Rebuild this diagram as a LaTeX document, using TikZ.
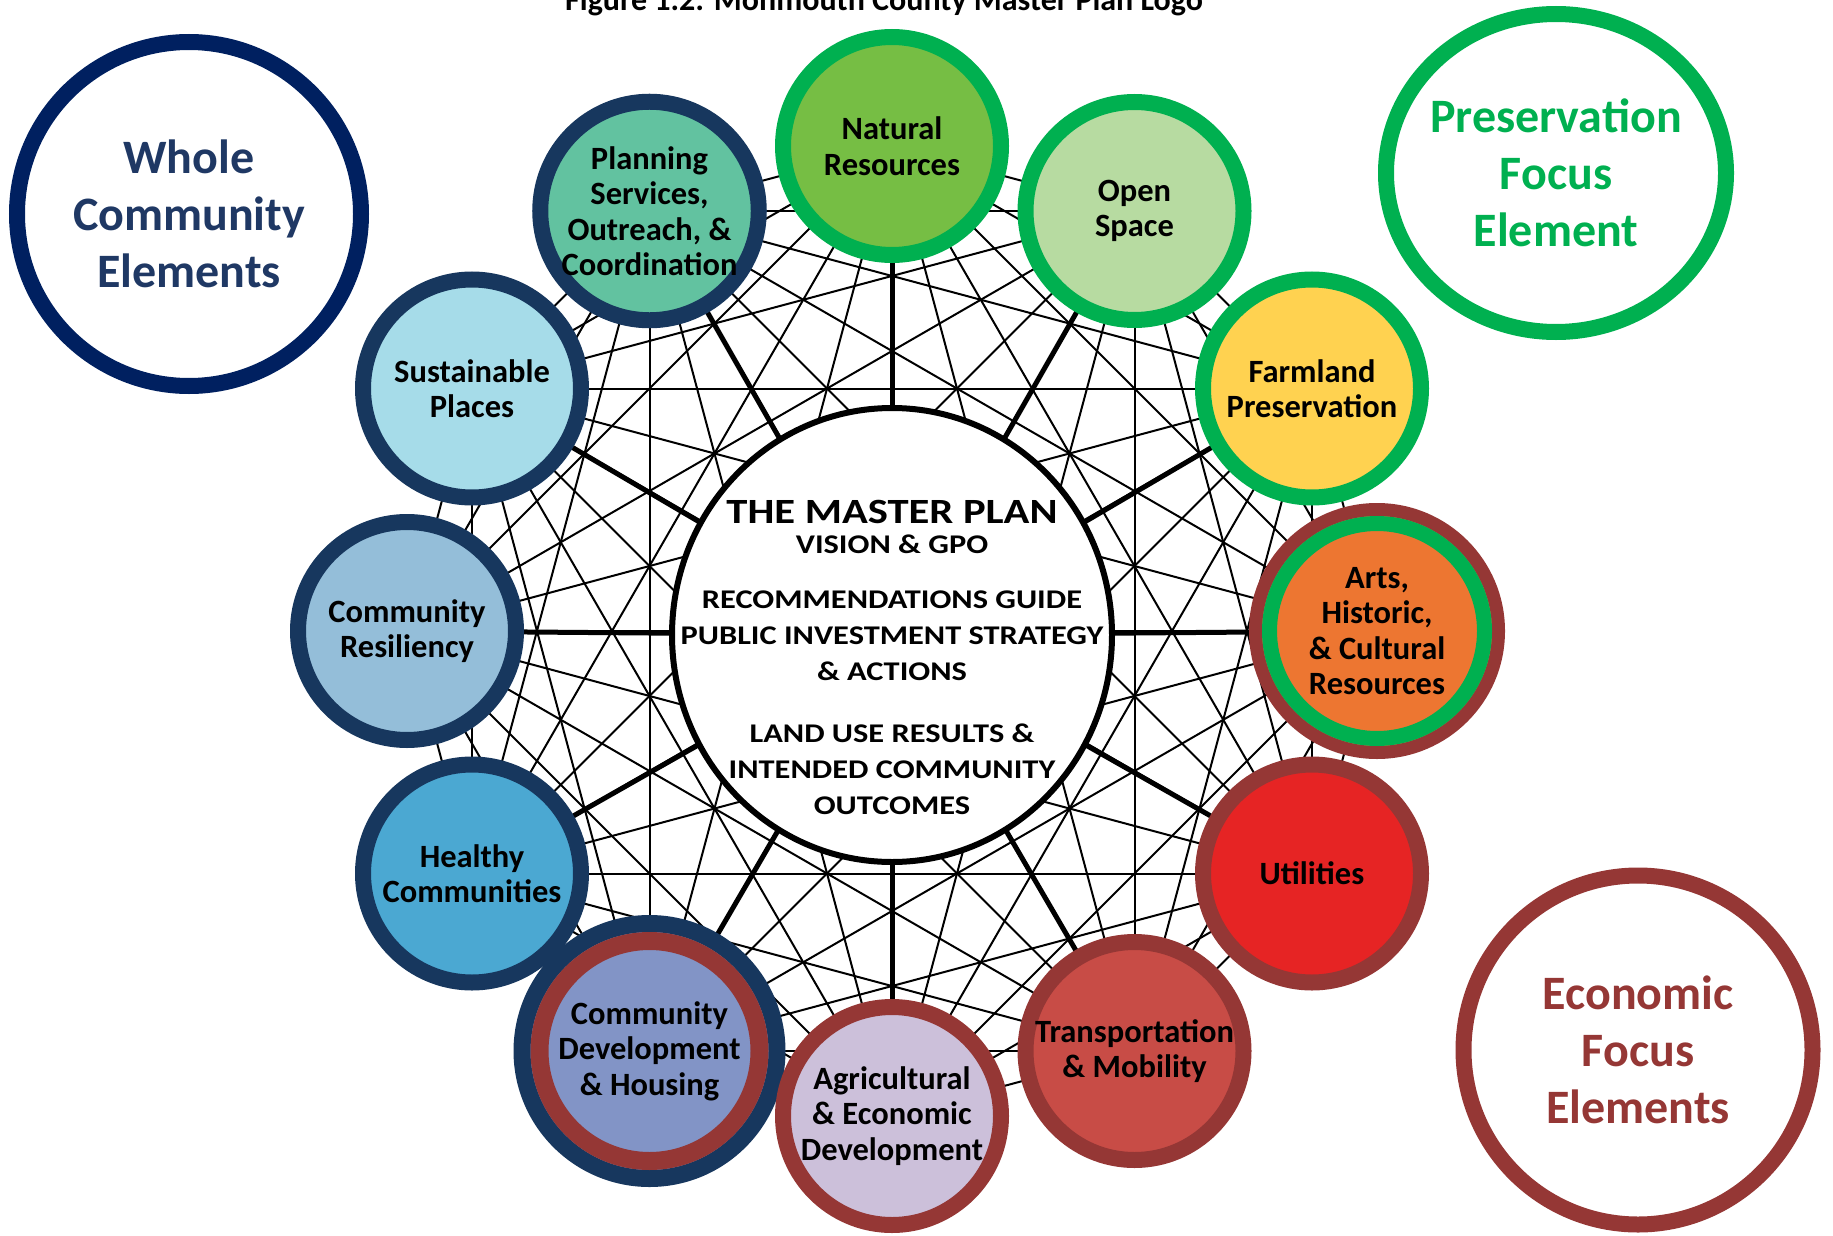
\documentclass[tikz,border=0pt]{standalone}
\usepackage{xcolor}
\usepackage{fontspec}
\setmainfont{Carlito}
\newfontfamily\hubfont[FakeStretch=1.2]{Carlito}
\usepackage{tikz}
\usetikzlibrary{shapes.geometric}
\pgfdeclarelayer{background}
\pgfsetlayers{background,main}

\definecolor{navyring}{RGB}{23,55,94}
\definecolor{navyleg}{RGB}{0,32,96}
\definecolor{navytxt}{RGB}{31,56,100}
\definecolor{pgreen}{RGB}{0,176,80}
\definecolor{ered}{RGB}{149,55,53}
\definecolor{natfill}{RGB}{118,190,68}
\definecolor{openfill}{RGB}{183,219,161}
\definecolor{farmfill}{RGB}{255,210,80}
\definecolor{artsfill}{RGB}{237,118,49}
\definecolor{utilfill}{RGB}{230,36,36}
\definecolor{transfill}{RGB}{200,76,70}
\definecolor{agrifill}{RGB}{204,192,218}
\definecolor{cdevfill}{RGB}{130,148,198}
\definecolor{healthfill}{RGB}{75,168,210}
\definecolor{resilfill}{RGB}{148,190,217}
\definecolor{sustfill}{RGB}{166,220,233}
\definecolor{planfill}{RGB}{98,194,160}

\tikzset{
  elem/.style={circle,draw=#1,line width=16pt,minimum size=218pt,inner sep=0pt,
    align=center,font=\bfseries\fontsize{32.5}{35.5}\selectfont},
  legend/.style={circle,draw=#1,text=#1,line width=16pt,inner sep=0pt,
    align=center,font=\bfseries\fontsize{48}{57}\selectfont},
  hub/.style={ellipse,draw=black,fill=white,line width=6pt,minimum width=440pt,minimum height=454pt},
  hubtext/.style={align=center,inner sep=0pt,font=\hubfont\bfseries\fontsize{27}{36}\selectfont},
  mesh/.style={line width=2pt},
  spoke/.style={line width=5pt}
}

\begin{document}
\begin{tikzpicture}[x=1pt,y=1pt,yscale=-1,xscale=1]
\useasboundingbox (0,0) rectangle (1833,1236);
%title
\node[anchor=base,font=\bfseries\fontsize{32}{36}\selectfont] (title) at (884,11) {Figure 1.2: Monmouth County Master Plan Logo};
%legend
\node[legend=navyleg,text=navytxt,minimum size=344pt] (whole) at (189,214) {Whole\\Community\\Elements};
\node[legend=pgreen,ellipse,inner xsep=-20pt,minimum width=340pt,minimum height=318pt] (pres) at (1556,173) {Preservation\\Focus\\Element};
\node[legend=ered,minimum size=349pt] (econ) at (1638,1050) {Economic\\Focus\\Elements};
%master plan
\node[hub] (mp) at (892,635) {};
\node[hubtext] (mptxt) at (892,657) {{\fontsize{35.5}{40}\selectfont THE MASTER PLAN}\\[-6pt]
VISION \& GPO\\[19pt]
RECOMMENDATIONS GUIDE\\
PUBLIC INVESTMENT STRATEGY\\
\& ACTIONS\\[26pt]
LAND USE RESULTS \&\\
INTENDED COMMUNITY\\
OUTCOMES};
%elements
\node[elem=pgreen,fill=natfill] (nat) at (892,146) {Natural\\Resources};
\node[elem=pgreen,fill=openfill] (open) at (1134.5,211) {Open\\Space};
\node[elem=pgreen,fill=farmfill] (farm) at (1312,388.5) {Farmland\\Preservation};
\node[elem=ered,fill=artsfill,line width=13pt,minimum size=243pt] (arts) at (1377,631) {Arts,\\Historic,\\\& Cultural\\Resources};
\draw[pgreen,line width=15pt] (arts.center) circle (107.5);
\node[elem=ered,fill=utilfill] (util) at (1312,873.5) {Utilities};
\node[elem=ered,fill=transfill] (trans) at (1134.5,1051) {Transportation\\\& Mobility};
\node[elem=navyring,fill=cdevfill,line width=17pt,minimum size=255pt] (cdev) at (649.5,1051) {Community\\Development\\\& Housing};
\draw[ered,line width=18pt] (cdev.center) circle (110);
\node[elem=ered,fill=agrifill] (agri) at (892,1116) {Agricultural\\\& Economic\\Development};
\node[elem=navyring,fill=healthfill] (health) at (472,873.5) {Healthy\\Communities};
\node[elem=navyring,fill=resilfill] (resil) at (407,631) {Community\\Resiliency};
\node[elem=navyring,fill=sustfill] (sust) at (472,388.5) {Sustainable\\Places};
\node[elem=navyring,fill=planfill] (plan) at (649.5,211) {Planning\\Services,\\Outreach, \&\\Coordination};
%web
\def\elems{nat/1,open/2,farm/3,arts/4,util/5,trans/6,agri/7,cdev/8,health/9,resil/10,sust/11,plan/12}
\begin{pgfonlayer}{background}
\foreach \a/\i in \elems {
  \foreach \b/\j in \elems {
    \ifnum\j>\i\relax \draw[mesh] (\a.center) -- (\b.center);\fi
  }
  \draw[spoke] (mp.center) -- (\a.center);%spoke
}
\end{pgfonlayer}
\end{tikzpicture}
\end{document}
